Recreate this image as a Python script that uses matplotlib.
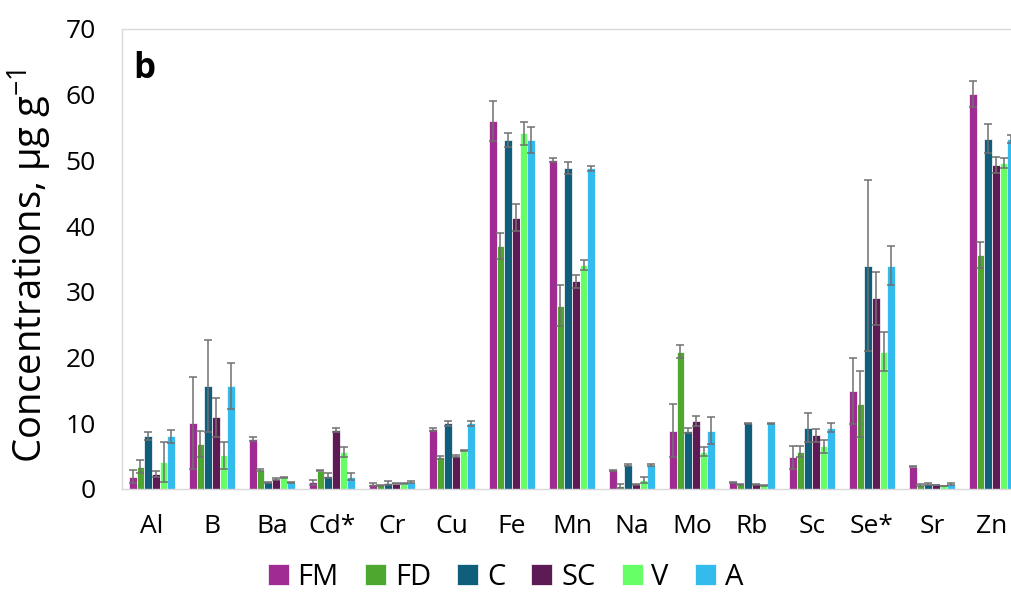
import numpy as np
import matplotlib.pyplot as plt

plt.rcParams['font.family'] = ['Open Sans', 'DejaVu Sans']
plt.rcParams['mathtext.default'] = 'regular'

# 元素类别
elements = ['Al', 'B', 'Ba', 'Cd*', 'Cr', 'Cu', 'Fe', 'Mn', 'Na', 'Mo', 'Rb', 'Sc', 'Se*', 'Sr', 'Zn']
series_names = ['FM', 'FD', 'C', 'SC', 'V', 'A']
colors = ['#A02B93', '#4EA72E', '#0F5E7C', '#5E1A55', '#66FF66', '#33BBEE']

# 各组均值
fm = [1.9, 10.0, 7.6, 1.0, 0.7, 9.1, 56.0, 50.1, 2.85, 8.9, 1.0, 4.8, 14.9, 3.4, 60.1]
fd = [3.4, 6.9, 2.9, 2.8, 0.55, 4.8, 37.0, 27.9, 0.45, 20.9, 0.7, 5.7, 12.9, 0.6, 35.6]
c = [8.0, 15.7, 1.0, 2.0, 0.9, 10.0, 53.1, 48.8, 3.66, 8.9, 10.0, 9.3, 34.0, 0.76, 53.3]
sc = [2.3, 10.9, 1.5, 9.0, 0.8, 5.0, 41.3, 31.6, 0.7, 10.3, 0.7, 8.2, 29.0, 0.6, 49.3]
v = [4.1, 5.1, 1.8, 5.6, 0.8, 5.9, 54.1, 34.1, 1.37, 5.7, 0.55, 6.5, 20.9, 0.45, 49.6]
a = [8.0, 15.7, 1.0, 1.9, 1.05, 10.0, 53.1, 48.8, 3.66, 8.9, 10.0, 9.3, 34.0, 0.76, 53.2]

# 误差（标准差）
fm_err = [1.0, 7.0, 0.35, 0.35, 0.25, 0.2, 3.1, 0.3, 0.1, 4.0, 0.05, 1.7, 5.0, 0.1, 2.0]
fd_err = [1.0, 2.0, 0.2, 0.1, 0.1, 0.2, 2.0, 3.1, 0.25, 1.0, 0.05, 0.9, 5.0, 0.1, 2.0]
c_err = [0.6, 7.0, 0.1, 0.4, 0.35, 0.35, 1.0, 0.9, 0.1, 0.35, 0.05, 2.2, 13.0, 0.1, 2.2]
sc_err = [0.5, 3.0, 0.1, 0.3, 0.1, 0.1, 2.0, 1.0, 0.1, 0.75, 0.05, 1.0, 4.0, 0.05, 1.2]
v_err = [3.0, 2.0, 0.1, 0.8, 0.1, 0.1, 1.8, 0.8, 0.4, 0.7, 0.05, 1.0, 3.0, 0.05, 0.8]
a_err = [1.0, 3.5, 0.1, 0.5, 0.1, 0.35, 2.0, 0.4, 0.1, 2.1, 0.05, 0.7, 3.0, 0.1, 0.6]

values = [fm, fd, c, sc, v, a]
errors = [fm_err, fd_err, c_err, sc_err, v_err, a_err]


def main():
    fig = plt.figure(figsize=(10.11, 5.94), dpi=100)
    # 右侧故意超出画布（原图被裁切）
    ax = fig.add_axes([122 / 1011, 105 / 594, 900 / 1011, 460 / 594])

    x = np.arange(len(elements))
    w = 0.128
    for k, (name, col) in enumerate(zip(series_names, colors)):
        ax.bar(x + (k - 2.5) * w, values[k], w, yerr=errors[k], color=col,
               edgecolor='white', linewidth=0.5, label=name,
               error_kw=dict(ecolor='#707070', elinewidth=1.1, capsize=2.6, capthick=1.1))

    ax.set_xlim(-0.5, len(elements) - 0.5)
    ax.set_ylim(0, 70)
    ax.set_yticks(range(0, 71, 10))
    ax.set_xticks(x)
    ax.set_xticklabels(elements)
    ax.tick_params(axis='both', length=0, labelsize=19)
    ax.tick_params(axis='y', pad=19)
    ax.tick_params(axis='x', pad=18)

    for sp in ax.spines.values():
        sp.set_color('#D9D9D9')
        sp.set_linewidth(1.0)

    ax.set_ylabel('Concentrations, μg g$^{-1}$', fontsize=27.5)
    ax.yaxis.set_label_coords(-0.075, 0.485)

    ax.text(0.012, 0.913, 'b', transform=ax.transAxes, fontsize=25,
            fontweight='bold', va='center', ha='left')

    fig.legend(loc='lower center', bbox_to_anchor=(0.5, 0.004), ncol=6,
               frameon=False, fontsize=21, handlelength=0.72, handleheight=0.72,
               handletextpad=0.3, columnspacing=0.9, borderpad=0.0, borderaxespad=0.0)

    plt.savefig('out.png', dpi=100)


if __name__ == '__main__':
    main()
